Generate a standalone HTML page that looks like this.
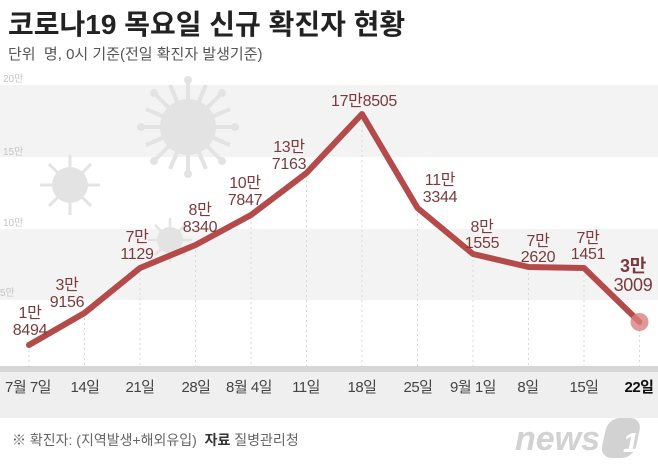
<!DOCTYPE html>
<html><head><meta charset="utf-8"><style>
body{margin:0;background:#fff;}
svg{display:block;font-family:"Liberation Sans","Noto Sans CJK KR",sans-serif;}
</style></head><body>
<svg width="658" height="473" viewBox="0 0 658 473">
<rect x="0" y="85" width="658" height="72" fill="#f3f3f3"/>
<rect x="0" y="229" width="658" height="71" fill="#f3f3f3"/>
<rect x="0" y="366" width="658" height="6" fill="#d6d6d6"/>
<rect x="0" y="372" width="658" height="46" fill="#efefef"/>
<!-- viruses -->
<g fill="#e3e3e3" stroke="#e3e3e3">
<g transform="translate(188,127)">
<circle r="28" stroke="none"/>
<g stroke-width="4">
<line x1="0" y1="0" x2="0" y2="-46"/><line x1="0" y1="0" x2="0" y2="46"/><line x1="0" y1="0" x2="46" y2="0"/><line x1="0" y1="0" x2="-46" y2="0"/>
<line x1="0" y1="0" x2="33" y2="33"/><line x1="0" y1="0" x2="-33" y2="33"/><line x1="0" y1="0" x2="33" y2="-33"/><line x1="0" y1="0" x2="-33" y2="-33"/>
<line x1="0" y1="0" x2="18" y2="-42"/><line x1="0" y1="0" x2="-18" y2="42"/><line x1="0" y1="0" x2="42" y2="18"/><line x1="0" y1="0" x2="-42" y2="-18"/>
<line x1="0" y1="0" x2="-18" y2="-42"/><line x1="0" y1="0" x2="18" y2="42"/><line x1="0" y1="0" x2="42" y2="-18"/><line x1="0" y1="0" x2="-42" y2="18"/>
</g>
<g stroke="none">
<circle cx="0" cy="-47" r="4"/><circle cx="0" cy="47" r="4"/><circle cx="47" cy="0" r="4"/><circle cx="-47" cy="0" r="4"/>
<circle cx="34" cy="34" r="4"/><circle cx="-34" cy="34" r="4"/><circle cx="34" cy="-34" r="4"/><circle cx="-34" cy="-34" r="4"/>
</g>
</g>
<g transform="translate(70,185)">
<circle r="18" stroke="none"/>
<g stroke-width="3">
<line x1="0" y1="0" x2="0" y2="-30"/><line x1="0" y1="0" x2="0" y2="30"/><line x1="0" y1="0" x2="30" y2="0"/><line x1="0" y1="0" x2="-30" y2="0"/>
<line x1="0" y1="0" x2="21" y2="21"/><line x1="0" y1="0" x2="-21" y2="21"/><line x1="0" y1="0" x2="21" y2="-21"/><line x1="0" y1="0" x2="-21" y2="-21"/>
</g>
</g>
<g transform="translate(170,240)">
<circle r="13" stroke="none"/>
<g stroke-width="2.5">
<line x1="0" y1="0" x2="0" y2="-22"/><line x1="0" y1="0" x2="0" y2="22"/><line x1="0" y1="0" x2="22" y2="0"/><line x1="0" y1="0" x2="-22" y2="0"/>
<line x1="0" y1="0" x2="15" y2="15"/><line x1="0" y1="0" x2="-15" y2="15"/><line x1="0" y1="0" x2="15" y2="-15"/><line x1="0" y1="0" x2="-15" y2="-15"/>
</g>
</g>
</g>
<!-- dotted verticals -->
<g stroke="#d8d8d8" stroke-width="1" stroke-dasharray="2,3">
<line x1="29" y1="345" x2="29" y2="366"/><line x1="84.5" y1="313" x2="84.5" y2="366"/><line x1="140" y1="268" x2="140" y2="366"/>
<line x1="195.5" y1="245" x2="195.5" y2="366"/><line x1="251" y1="217" x2="251" y2="366"/><line x1="306.5" y1="175" x2="306.5" y2="366"/>
<line x1="362" y1="115" x2="362" y2="366"/><line x1="417.5" y1="209" x2="417.5" y2="366"/><line x1="473" y1="255" x2="473" y2="366"/>
<line x1="528.5" y1="268" x2="528.5" y2="366"/><line x1="584" y1="270" x2="584" y2="366"/><line x1="639.5" y1="325" x2="639.5" y2="366"/>
</g>
<!-- title -->
<text x="8" y="34" font-size="28" font-weight="bold" fill="#222">코로나19 목요일 신규 확진자 현황</text>
<text x="8" y="59" font-size="15" fill="#555" xml:space="preserve">단위  명, 0시 기준(전일 확진자 발생기준)</text>
<g font-size="10" fill="#c4c4c4">
<text x="3" y="82">20만</text><text x="3" y="155">15만</text><text x="3" y="226">10만</text><text x="0" y="296">5만</text>
</g>
<!-- line -->
<polyline fill="none" stroke="#b54a4b" stroke-width="6" stroke-linejoin="round" stroke-linecap="round"
points="29,345 84.5,313 140,268 195.5,245 251,215 306.5,173 362,114 417.5,208 473,254 528.5,267 584,268 639.5,322"/>
<circle cx="639.5" cy="322" r="9" fill="#d98080" opacity="0.8"/>
<!-- labels -->
<g font-size="16" fill="#7d3a3d" text-anchor="middle" letter-spacing="-0.3">
<text x="30" y="318">1만</text><text x="30" y="335">8494</text>
<text x="67" y="290">3만</text><text x="67" y="307">9156</text>
<text x="137" y="242">7만</text><text x="137" y="259">1129</text>
<text x="200" y="215">8만</text><text x="200" y="232">8340</text>
<text x="245" y="188">10만</text><text x="245" y="205">7847</text>
<text x="289" y="152">13만</text><text x="289" y="169">7163</text>
<text x="364" y="106">17만8505</text>
<text x="440" y="185">11만</text><text x="440" y="202">3344</text>
<text x="482" y="232">8만</text><text x="482" y="248">1555</text>
<text x="538" y="246">7만</text><text x="538" y="262">2620</text>
<text x="588" y="243">7만</text><text x="588" y="259">1451</text>
<text x="633" y="272" font-size="18" font-weight="bold">3만</text><text x="633" y="291" font-size="18">3009</text>
</g>
<!-- x labels -->
<g font-size="15" fill="#444" text-anchor="middle" letter-spacing="-0.5">
<text x="28" y="392">7월 7일</text><text x="85" y="392">14일</text><text x="140" y="392">21일</text>
<text x="196" y="392">28일</text><text x="249" y="392">8월 4일</text><text x="306" y="392">11일</text>
<text x="362" y="392">18일</text><text x="418" y="392">25일</text><text x="473" y="392">9월 1일</text>
<text x="528" y="392">8일</text><text x="584" y="392">15일</text><text x="639" y="392" font-weight="bold" fill="#111">22일</text>
</g>
<text x="12" y="445" font-size="14" fill="#666" xml:space="preserve">※ 확진자: (지역발생+해외유입)  <tspan fill="#333" font-weight="bold">자료</tspan> 질병관리청</text>
<text x="515" y="450" font-size="34" font-weight="bold" font-style="italic" fill="#d2d2d2">news</text>
<rect x="602" y="418" width="34" height="40" rx="12" fill="#d2d2d2" transform="skewX(-12) translate(95,0)"/>
<text x="623" y="452" font-size="28" font-weight="bold" font-style="italic" fill="#fff">1</text>
</svg>
</body></html>
